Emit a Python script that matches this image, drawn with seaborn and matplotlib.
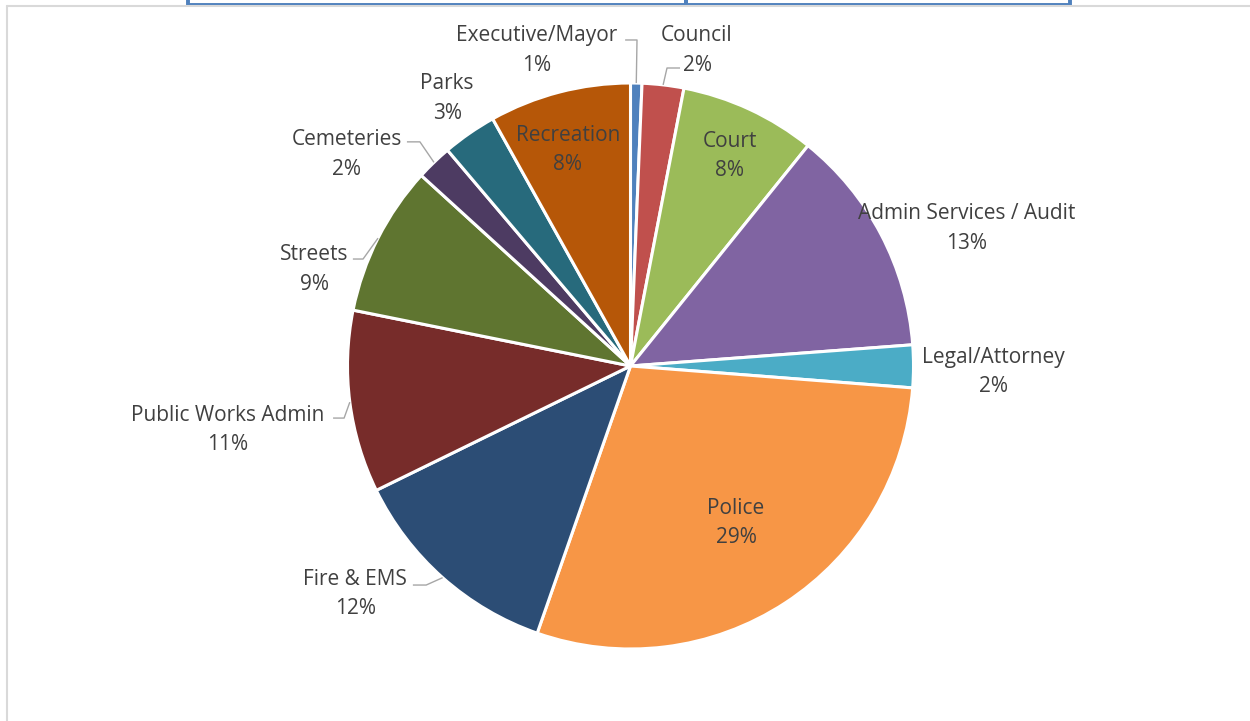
import matplotlib
matplotlib.use("Agg")
import matplotlib.pyplot as plt
import seaborn as sns
import numpy as np
from matplotlib.lines import Line2D
from matplotlib.patches import Rectangle

# ---- data ----
categories = ["Executive/Mayor", "Council", "Court", "Admin Services / Audit",
              "Legal/Attorney", "Police", "Fire & EMS", "Public Works Admin",
              "Streets", "Cemeteries", "Parks", "Recreation"]
shares = [0.65, 2.38, 7.77, 13.02, 2.43, 29.13, 12.42, 10.41, 8.6, 2.05, 3.1, 8.1]
pct_labels = ["1%", "2%", "8%", "13%", "2%", "29%", "12%", "11%", "9%", "2%", "3%", "8%"]

# ---- styling / layout ----
colors = ["#4F81BD", "#C0504D", "#9BBB59", "#8064A2", "#4BACC6", "#F79646",
          "#2C4D75", "#772C2A", "#5F7530", "#4D3B62", "#276A7C", "#B65708"]
# label centres in pie-radius units
label_pos = [(-0.332, 1.125), (0.235, 1.125), (0.351, 0.751), (1.189, 0.495),
             (1.284, -0.012), (0.373, -0.546), (-0.972, -0.797), (-1.422, -0.217),
             (-1.118, 0.350), (-1.002, 0.756), (-0.648, 0.954), (-0.221, 0.772)]
# leader lines: (end_x, elbow_x, y) in pie-radius units, or None
leaders = [(-0.019, 0.023, 1.152), (0.175, 0.129, 1.053), None, None,
           None, None, (-0.769, -0.722, -0.774), (-1.051, -1.012, -0.184),
           (-0.981, -0.945, 0.378), (-0.790, -0.744, 0.792), None, None]

sns.set_theme(style="white")
plt.rcParams['font.family'] = ['Open Sans', 'DejaVu Sans']

W, H = 1250, 721
fig = plt.figure(figsize=(W / 100, H / 100), dpi=100)
fig.patch.set_facecolor("white")

cx, cy, R = 630.5, 366, 283
ax = fig.add_axes([(cx - R) / W, (H - cy - R) / H, 2 * R / W, 2 * R / H])
palette = sns.color_palette(colors)
wedges, _ = ax.pie(shares, colors=palette, startangle=90, counterclock=False,
                   radius=1, wedgeprops=dict(edgecolor="white", linewidth=2.2))
ax.set_xlim(-1, 1)
ax.set_ylim(-1, 1)
ax.set_aspect("equal")
ax.axis("off")

txt_color = "#404040"
for w, cat, pct, (lx, ly), ld in zip(wedges, categories, pct_labels, label_pos, leaders):
    ax.text(lx, ly - 0.009, f"{cat}\n{pct}", ha="center", va="center", fontsize=15,
            color=txt_color, linespacing=1.55, clip_on=False)
    if ld is not None:
        mid = np.deg2rad((w.theta1 + w.theta2) / 2)
        px, py = np.cos(mid), np.sin(mid)
        ex, bx, y = ld
        ax.plot([ex, bx, px], [y, y, py], color="#A6A6A6", lw=1.0,
                clip_on=False, solid_capstyle="butt")

# chart frame (light grey)
fig.add_artist(Line2D([7 / W, 1], [1 - 6 / H, 1 - 6 / H], transform=fig.transFigure,
                      color="#D9D9D9", lw=1.5))
fig.add_artist(Line2D([7 / W, 7 / W], [0, 1 - 6 / H], transform=fig.transFigure,
                      color="#D9D9D9", lw=1.5))

# cut-off table box at top
for x0, x1 in [(188, 686), (686, 1070)]:
    fig.add_artist(Rectangle((x0 / W, 1 - 5 / H), (x1 - x0) / W, 20 / H,
                             transform=fig.transFigure, fill=False,
                             edgecolor="#4F81BD", lw=2.8))

fig.savefig("out.png", dpi=100, facecolor="white")
